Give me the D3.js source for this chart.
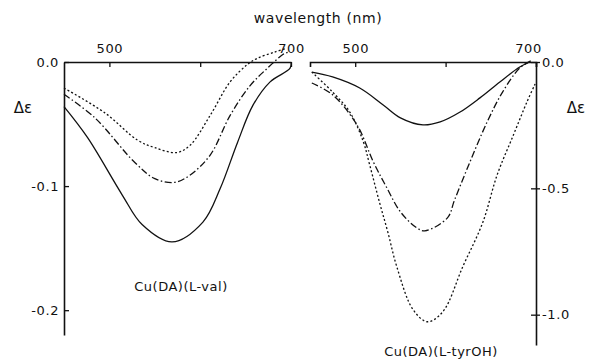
<!DOCTYPE html>
<html>
<head>
<meta charset="utf-8">
<script src="https://cdn.jsdelivr.net/npm/d3@7"></script>
<style>
  body { margin: 0; background: #fff; }
  text { font-family: "DejaVu Sans", sans-serif; fill: #111; }
</style>
</head>
<body>
<svg id="svg" width="589" height="359"></svg>
<script>
// CD spectra, two complexes, three curves each: [wavelength nm, delta epsilon]
var xTicks = [500, 600, 700];
var leftTicks = [0, -0.1, -0.2];
var leftTickLabels = ["0.0", "-0.1", "-0.2"];
var rightTicks = [0, -0.5, -1.0];
var rightTickLabels = ["0.0", "-0.5", "-1.0"];

// Cu(DA)(L-val)
var valSolid = [[450,-0.036],[476,-0.061],[514,-0.107],[536,-0.131],[569,-0.145],[603,-0.129],
  [622,-0.102],[641,-0.065],[658,-0.035],[677,-0.016],[699,-0.005],[700,0]];
var valDashDot = [[450,-0.026],[484,-0.045],[528,-0.081],[550,-0.094],[572,-0.097],[589,-0.091],
  [611,-0.075],[633,-0.043],[655,-0.019],[674,-0.005],[691,0.006],[697,0.008]];
var valDotted = [[450,-0.021],[495,-0.041],[531,-0.063],[550,-0.069],[574,-0.073],[589,-0.067],
  [611,-0.043],[633,-0.016],[652,-0.002],[663,0.003],[682,0.008],[695,0.011]];

// Cu(DA)(L-tyrOH)
var tyrSolid = [[452,-0.040],[475,-0.059],[505,-0.103],[531,-0.170],[550,-0.221],[575,-0.249],
  [594,-0.237],[616,-0.198],[638,-0.142],[660,-0.079],[682,-0.020],[693,0]];
var tyrDashDot = [[452,-0.083],[475,-0.130],[502,-0.249],[520,-0.395],[535,-0.498],[550,-0.593],
  [568,-0.656],[577,-0.668],[602,-0.617],[610,-0.545],[627,-0.395],[646,-0.237],[663,-0.119],
  [682,-0.024],[696,0.008]];
var tyrDotted = [[452,-0.040],[475,-0.119],[494,-0.198],[509,-0.316],[516,-0.407],[527,-0.557],
  [536,-0.672],[546,-0.810],[564,-0.980],[580,-1.028],[597,-0.988],[619,-0.810],[641,-0.636],
  [657,-0.447],[675,-0.289],[690,-0.158],[699,-0.087]];

var svg = d3.select('svg');

var top0 = 62;

var xL = d3.scaleLinear().domain([450, 700]).range([64, 291]);
var yL = d3.scaleLinear().domain([0, -0.22]).range([top0, 335]);
var xR = d3.scaleLinear().domain([450, 700]).range([310, 536]);
var yR = d3.scaleLinear().domain([0, -1.12]).range([top0, 345]);

var styles = {
  solid: null,
  dashdot: "7,2.5,1.5,2.5",
  dotted: "2,2.2"
};

function drawPanel(x, y, series) {
  var line = d3.line()
    .x(function(d) { return x(d[0]); })
    .y(function(d) { return y(d[1]); })
    .curve(d3.curveCatmullRom);
  series.forEach(function(s) {
    svg.append("path")
      .datum(s.data)
      .attr("d", line)
      .attr("fill", "none")
      .attr("stroke", "#111")
      .attr("stroke-width", 1.3)
      .attr("stroke-dasharray", styles[s.style]);
  });
}

drawPanel(xL, yL, [
  {data: valSolid, style: "solid"},
  {data: valDashDot, style: "dashdot"},
  {data: valDotted, style: "dotted"}
]);
drawPanel(xR, yR, [
  {data: tyrSolid, style: "solid"},
  {data: tyrDashDot, style: "dashdot"},
  {data: tyrDotted, style: "dotted"}
]);

function styleAxis(g) {
  g.select(".domain").attr("stroke", "#111").attr("stroke-width", 1.6);
  g.selectAll(".tick line").attr("stroke", "#111").attr("stroke-width", 1.3);
  g.selectAll("text").attr("font-size", 13).attr("letter-spacing", 0.6)
    .attr("font-family", "DejaVu Sans, sans-serif").attr("fill", "#111");
}

// top axes
svg.append("g")
  .attr("transform", "translate(0," + top0 + ")")
  .call(d3.axisTop(xL).tickValues(xTicks).tickSizeInner(-5).tickSizeOuter(0).tickPadding(9)
    .tickFormat(function(d) { return d === 600 ? "" : d; }))
  .call(styleAxis);

var topR = svg.append("g")
  .attr("transform", "translate(0," + top0 + ")")
  .call(d3.axisTop(xR).tickValues(xTicks).tickSizeInner(-5).tickSizeOuter(-5).tickPadding(9)
    .tickFormat(function(d) { return d === 600 ? "" : d; }))
  .call(styleAxis);
topR.selectAll(".tick text").filter(function(d) { return d === 700; }).attr("dx", -8);

// left axis
svg.append("g")
  .attr("transform", "translate(" + xL.range()[0] + ",0)")
  .call(d3.axisLeft(yL).tickValues(leftTicks).tickSizeInner(-5).tickSizeOuter(0).tickPadding(5)
    .tickFormat(function(d, i) { return leftTickLabels[i]; }))
  .call(styleAxis);

// right axis
var rAx = svg.append("g")
  .attr("transform", "translate(" + xR.range()[1] + ",0)")
  .call(d3.axisRight(yR).tickValues(rightTicks).tickSizeInner(-5).tickSizeOuter(0).tickPadding(6)
    .tickFormat(function(d, i) { return rightTickLabels[i]; }))
  .call(styleAxis);
rAx.selectAll(".tick line").attr("x1", 4);

// labels
svg.append("text")
  .attr("x", 318).attr("y", 19)
  .attr("text-anchor", "middle").attr("dominant-baseline", "middle")
  .attr("font-size", 14).attr("letter-spacing", 0.6)
  .text("wavelength (nm)");

svg.append("text")
  .attr("x", 23).attr("y", 108)
  .attr("text-anchor", "middle").attr("dominant-baseline", "middle")
  .attr("font-size", 15)
  .text("Δε");

svg.append("text")
  .attr("x", 576).attr("y", 108)
  .attr("text-anchor", "middle").attr("dominant-baseline", "middle")
  .attr("font-size", 15)
  .text("Δε");

svg.append("text")
  .attr("x", 181).attr("y", 287)
  .attr("text-anchor", "middle").attr("dominant-baseline", "middle")
  .attr("font-size", 13).attr("letter-spacing", 0.5)
  .text("Cu(DA)(L-val)");

svg.append("text")
  .attr("x", 441).attr("y", 352)
  .attr("text-anchor", "middle").attr("dominant-baseline", "middle")
  .attr("font-size", 13).attr("letter-spacing", 0.5)
  .text("Cu(DA)(L-tyrOH)");
</script>
</body>
</html>
